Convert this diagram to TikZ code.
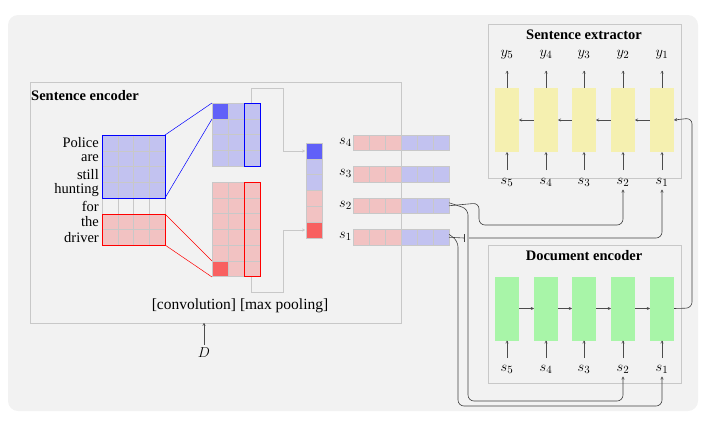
\documentclass[tikz,border=0pt]{standalone}
\usepackage{fontspec}
\setmainfont{Liberation Serif}
\usetikzlibrary{arrows.meta}
\definecolor{bg}{HTML}{F2F2F2}
\definecolor{lb}{HTML}{C2C2F0}
\definecolor{db}{HTML}{6060F8}
\definecolor{lr}{HTML}{F2C2C2}
\definecolor{dr}{HTML}{F86060}
\definecolor{yl}{HTML}{F5F0B0}
\definecolor{gr}{HTML}{A8F5A8}
\definecolor{bx}{HTML}{C8C8C8}
\begin{document}
\begin{tikzpicture}[x=1pt,y=-1pt,
  cell/.style={draw=bx,line width=0.6pt},
  box/.style={draw=bx,line width=0.8pt},
  ttl/.style={font=\bfseries\fontsize{14.5}{14.5}\selectfont},
  lbl/.style={font=\fontsize{15.5}{15.5}\selectfont},
  wrd/.style={font=\fontsize{14.5}{14.5}\selectfont,anchor=east,inner sep=0pt},
  ar/.style={-{To[length=3pt,width=3pt]},line width=0.5pt,draw=black!70},
  con/.style={-{To[length=3pt,width=3pt]},line width=0.6pt,draw=black!75,rounded corners=6pt},
  yrect/.style={fill=yl,minimum width=24pt,minimum height=64pt,inner sep=0pt},
  grect/.style={fill=gr,minimum width=24pt,minimum height=64pt,inner sep=0pt}]
\useasboundingbox (0,0) rectangle (706,426);
\fill[bg,rounded corners=10pt] (8,15) rectangle (698,411);
% Sentence encoder
\draw[box] (30,82) rectangle (401,323);
\node[ttl,anchor=west,inner sep=1pt] (setitle) at (30,96) {Sentence encoder};
% word grid
\foreach \i in {0,...,3}{\foreach \j in {0,...,3}{\fill[lb] (102+\i*15.75,135+\j*15.75) rectangle ++(15.75,15.75);}}
\foreach \i in {0,1,2,3}{\foreach \j in {0,1}{\fill[lr] (102+\i*15.75,214+\j*15.75) rectangle ++(15.75,15.75);}}
\foreach \i in {0,...,4}{\draw[bx] (102+\i*15.75,135) -- (102+\i*15.75,245);}
\foreach \j in {0,...,7}{\draw[bx] (102,135+\j*15.75) -- (165,135+\j*15.75);}
\draw[blue,line width=0.7pt] (102,135) rectangle (165,198);
\draw[red,line width=0.7pt] (102,214) rectangle (165,245);
\foreach \w/\y in {Police/143,are/158,still/175,hunting/190,for/206,the/222,driver/238}{\node[wrd] (w\w) at (99,\y) {\w};}
% conv maps
\foreach \i in {0,1,2}{\foreach \j in {0,...,3}{\fill[lb] (212+\i*16,103+\j*15.75) rectangle ++(16,15.75);}}
\fill[db] (212,103) rectangle ++(16,15.75);
\foreach \i in {0,...,3}{\draw[bx] (212+\i*16,103) -- (212+\i*16,166);}
\foreach \j in {0,...,4}{\draw[bx] (212,103+\j*15.75) -- (260,103+\j*15.75);}
\draw[blue,line width=0.7pt] (244,103) rectangle (260,166);
\foreach \i in {0,1,2}{\foreach \j in {0,...,5}{\fill[lr] (212+\i*16,182+\j*15.75) rectangle ++(16,15.75);}}
\fill[dr] (212,261.25) rectangle ++(16,15.75);
\foreach \i in {0,...,3}{\draw[bx] (212+\i*16,182) -- (212+\i*16,276.5);}
\foreach \j in {0,...,6}{\draw[bx] (212,182+\j*15.75) -- (260,182+\j*15.75);}
\draw[red,line width=0.7pt] (244,182) rectangle (260,276.5);
\draw[blue,line width=0.5pt] (165,135) -- (212,103) (165,198) -- (212,119);
\draw[red,line width=0.5pt] (165,214) -- (212,261) (165,245) -- (212,277);
% pooling brackets
\draw[bx,line width=0.7pt,-{To[length=3pt,width=3pt]}] (251,103) -- (251,88) -- (283,88) -- (283,151) -- (305,151);
\draw[bx,line width=0.7pt,-{To[length=3pt,width=3pt]}] (251,277) -- (251,292) -- (283,292) -- (283,230) -- (305,230);
% pooled vector
\foreach \c [count=\k from 0] in {db,lb,lb,lr,lr,dr}{\fill[\c] (306,143+\k*15.8) rectangle ++(16,15.8);}
\foreach \k in {0,...,6}{\draw[bx] (306,143+\k*15.8) -- (322,143+\k*15.8);}
\draw[bx] (306,143) rectangle (322,237.8);
\node[lbl] (cp) at (240,306) {[convolution] [max pooling]};
% sentence vectors
\foreach \n/\y in {4/135,3/166.5,2/198,1/229.5}{
  \foreach \k in {0,1,2}{\fill[lr] (353+\k*16,\y) rectangle ++(16,15.5);}
  \foreach \k in {3,4,5}{\fill[lb] (353+\k*16,\y) rectangle ++(16,15.5);}
  \foreach \k in {1,...,5}{\draw[bx] (353+\k*16,\y) -- ++(0,15.5);}
  \draw[bx] (353,\y) rectangle (449,\y+15.5);
  \node[lbl,anchor=east,inner sep=1pt] (sv\n) at (353,\y+7) {$s_{\n}$};
  \coordinate (e\n) at (449,\y+7.75);
}
\node[lbl] (D) at (204,353) {$D$};
\draw[ar] (D.north) -- (204,323);
% Sentence extractor
\draw[box] (488,24) rectangle (681,178);
\node[ttl] (sxt) at (584,35) {Sentence extractor};
\foreach \k/\x in {5/507,4/546,3/584,2/623,1/662}{
  \node[yrect] (y\k) at (\x,120) {};
  \node[lbl] (yl\k) at (\x,55) {$y_{\k}$};
  \node[lbl] (xs\k) at (\x,182) {$s_{\k}$};
  \draw[ar] (y\k.north) -- ++(0,-17);
  \draw[ar] (\x,170) -- (y\k.south);
}
\foreach \a/\b in {1/2,2/3,3/4,4/5}{\draw[ar] (y\a.west) -- (y\b.east);}
% Document encoder
\draw[box] (488,245) rectangle (681,383);
\node[ttl] (det) at (584,256) {Document encoder};
\foreach \k/\x in {5/507,4/546,3/584,2/623,1/662}{
  \node[grect] (g\k) at (\x,308.5) {};
  \node[lbl] (ds\k) at (\x,369) {$s_{\k}$};
  \draw[ar] (\x,358) -- (g\k.south);
}
\foreach \a/\b in {5/4,4/3,3/2,2/1}{\draw[ar] (g\a.east) -- (g\b.west);}
% connectors
\draw[con] (g1.east) -- (692,308) -- (692,118) -- (y1.east);
\draw[con] (e2) -- (479,203) -- (479,225) -- (623,225) -- (xs2.south);
\draw[con] (e1) -- (464,238) (469,238) -- (662,238) -- (xs1.south);
\draw[line width=0.6pt,black!75] (464,234) -- (464,242);
\draw[con] ([yshift=3pt]e2) -- (468,209) -- (468,401) -- (623,401) -- (ds2.south);
\draw[con] ([yshift=3pt]e1) -- (458,241) -- (458,406) -- (662,406) -- (ds1.south);
\end{tikzpicture}
\end{document}
